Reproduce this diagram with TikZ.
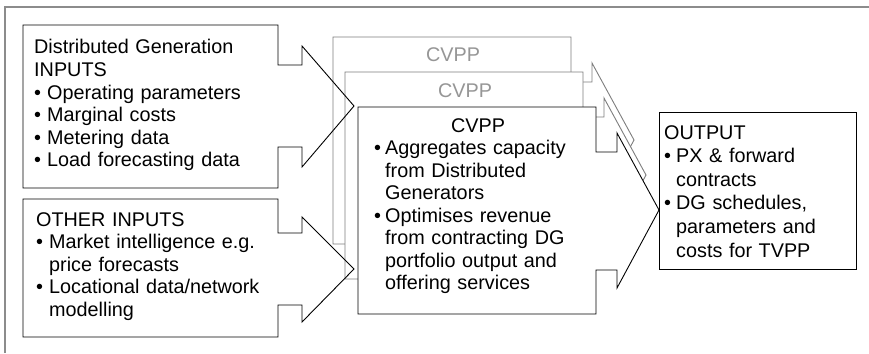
\documentclass[tikz,border=0pt]{standalone}
\usepackage{fontspec}
\setmainfont{Liberation Sans}
\usepackage{tikz}

\definecolor{framegray}{RGB}{140,140,140}
\definecolor{backline}{RGB}{125,125,125}
\definecolor{backtext}{RGB}{150,150,150}

\newcommand\bl[1][13pt]{\makebox[#1][l]{\textbullet}}
\newcommand\ind[1][13pt]{\hspace*{#1}}

\begin{document}
\begin{tikzpicture}[
  x=1pt,y=-1pt,
  callout/.style={draw=black,line width=0.9pt,line join=miter},
  layer/.style={fill=white,line width=0.9pt,line join=miter},
  txt/.style={inner sep=0pt,anchor=base west,align=left,text width=#1,
    font=\fontsize{19.8}{22.5}\selectfont},
  title/.style={inner sep=0pt,anchor=base,font=\fontsize{19.8}{22.5}\selectfont}
]
\useasboundingbox (0,0) rectangle (869,353);
% page frame (only top and left edges show)
\draw[framegray,line width=1.5pt] (5,353) -- (5,7) -- (869,7);

% stacked CVPP callouts, back to front
\foreach \sx/\sy/\lc/\tc/\nm in {-25/-70/backline/backtext/back,
                                 -13/-35/backline/backtext/mid,
                                 0/0/black/black/front} {
  \begin{scope}[shift={(\sx,\sy)}]
    \draw[layer,draw=\lc] (358,107) -- (596,107) -- (596,152) -- (617,152)
      -- (617,133) -- (659,210) -- (617,288) -- (617,270) -- (596,270)
      -- (596,314) -- (358,314) -- cycle;
    \node[title,text=\tc] (cvpp-\nm) at (478,132) {CVPP};
  \end{scope}
}

% input callouts
\draw[callout] (23,25) -- (278,25) -- (278,65) -- (302,65) -- (302,46)
  -- (354,106) -- (302,167) -- (302,147) -- (278,147) -- (278,188)
  -- (23,188) -- cycle;
\draw[callout] (23,199) -- (278,199) -- (278,233) -- (302,233) -- (302,217)
  -- (354,269) -- (302,322) -- (302,305) -- (278,305) -- (278,337)
  -- (23,337) -- cycle;

% output box
\draw[callout] (659,112) rectangle (856,269);

% texts
\node[txt=240pt] (dg) at (34,54) {Distributed Generation\\
  INPUTS\\
  \bl Operating parameters\\
  \bl Marginal costs\\
  \bl Metering data\\
  \bl Load forecasting data};
\node[txt=240pt] (other) at (36,226) {OTHER INPUTS\\
  \bl Market intelligence e.g.\\
  \ind price forecasts\\
  \bl Locational data/network\\
  \ind modelling};
\node[txt=215pt] (cvpp) at (374,154.5) {\bl[11pt]Aggregates capacity\\
  \ind[11pt]from Distributed\\
  \ind[11pt]Generators\\
  \bl[11pt]Optimises revenue\\
  \ind[11pt]from contracting DG\\
  \ind[11pt]portfolio output and\\
  \ind[11pt]offering services};
\node[txt=185pt,font=\fontsize{19.8}{23.6}\selectfont] (out) at (664,139) {OUTPUT\\
  \bl[12pt]PX \& forward\\
  \ind[12pt]contracts\\
  \bl[12pt]DG schedules,\\
  \ind[12pt]parameters and\\
  \ind[12pt]costs for TVPP};
\end{tikzpicture}
\end{document}
